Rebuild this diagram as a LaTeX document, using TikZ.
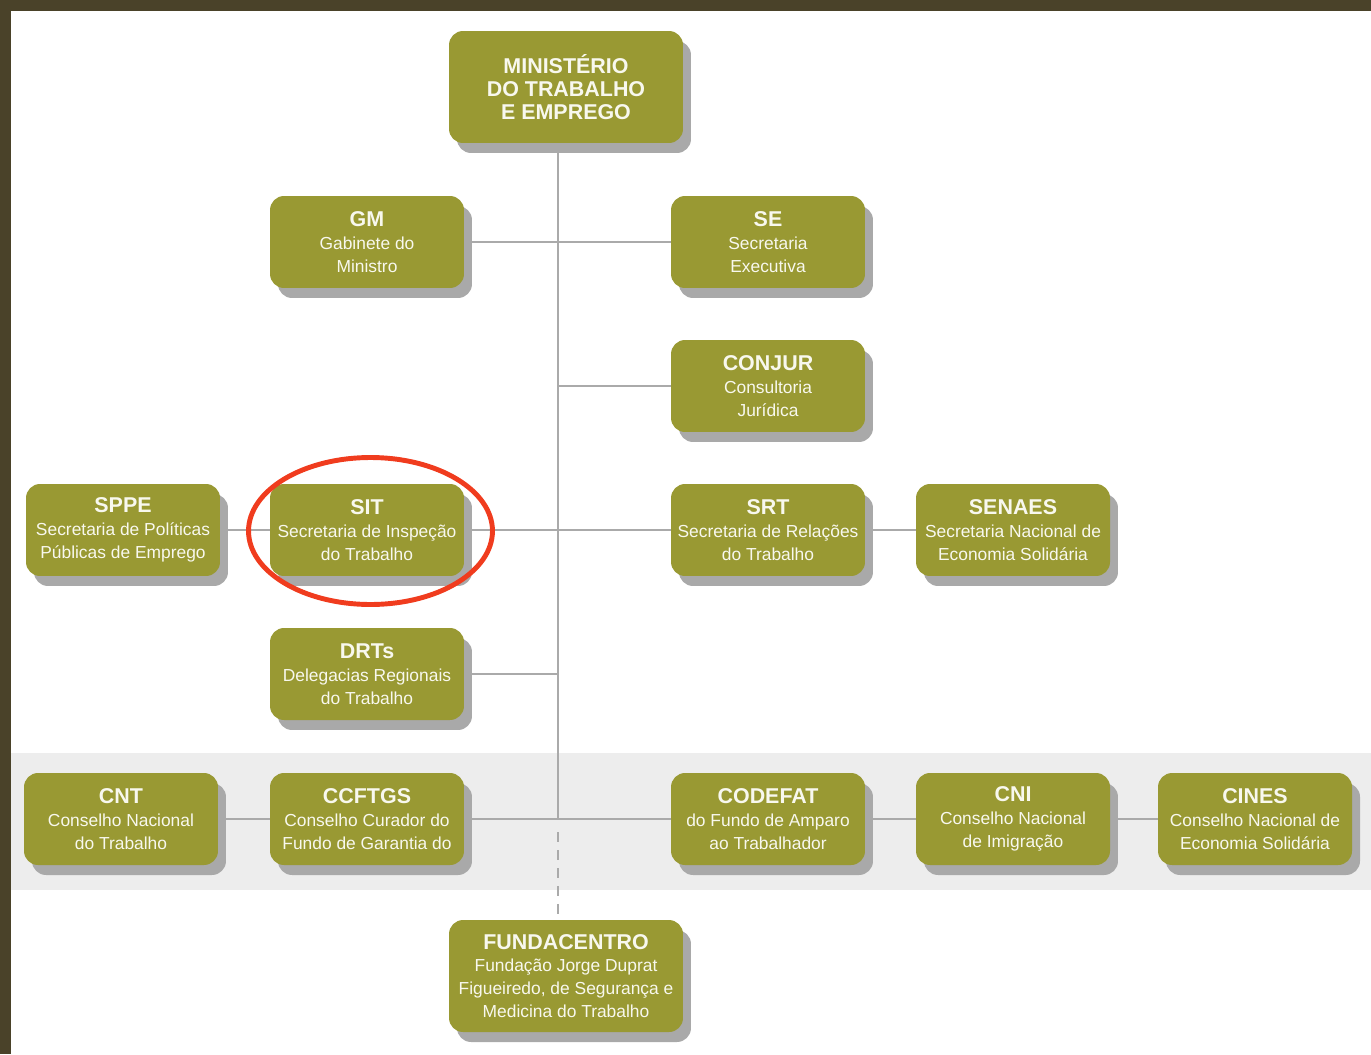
\documentclass[tikz,border=0pt]{standalone}
\usepackage{fontspec}
\setmainfont{Liberation Sans}
\usetikzlibrary{shadows,backgrounds}
\definecolor{frameC}{HTML}{4A4229}
\definecolor{boxC}{HTML}{999933}
\definecolor{shadowC}{HTML}{A9A9A9}
\definecolor{bandC}{HTML}{EDEDED}
\definecolor{lineC}{HTML}{AAAAAA}
\definecolor{txtC}{HTML}{F8F8EE}
\definecolor{redC}{HTML}{F03C1E}
\tikzset{
  orgbox/.style={fill=boxC, rounded corners=0.28cm, minimum width=3.88cm, minimum height=1.84cm,
    inner sep=0pt, align=center, text=txtC, font=\fontsize{9.9}{13}\selectfont,
    drop shadow={shadow xshift=0.16cm, shadow yshift=-0.2cm, fill=shadowC, opacity=1}},
  bigbox/.style={orgbox, minimum width=4.68cm, minimum height=2.24cm},
  conn/.style={draw=lineC, line width=1.1pt},
  dconn/.style={conn, dash pattern=on 0.2cm off 0.16cm}
}
\newcommand{\ttlfont}{\fontsize{12.2}{13}\selectfont\bfseries}
\begin{document}
\begin{tikzpicture}[x=0.02cm, y=-0.02cm]
\useasboundingbox (0,0) rectangle (1371,1054);

\coordinate (trunk) at (558,0);
\coordinate (dstart) at (558,832);

\node[bigbox] (MIN) at (566,87) {\ttlfont MINISTÉRIO\\\ttlfont DO TRABALHO\\\ttlfont E EMPREGO};
\node[orgbox] (GM) at (367,242) {{\ttlfont GM}\\Gabinete do\\Ministro};
\node[orgbox] (SE) at (768,242) {{\ttlfont SE}\\Secretaria\\Executiva};
\node[orgbox] (CONJUR) at (768,386) {{\ttlfont CONJUR}\\Consultoria\\Jurídica};
\node[orgbox] (SPPE) at (123,530) {{\ttlfont SPPE}\\Secretaria de Políticas\\Públicas de Emprego};
\node[orgbox] (SIT) at (367,530) {{\ttlfont SIT}\\Secretaria de Inspeção\\do Trabalho};
\node[orgbox] (SRT) at (768,530) {{\ttlfont SRT}\\Secretaria de Relações\\do Trabalho};
\node[orgbox] (SENAES) at (1013,530) {{\ttlfont SENAES}\\Secretaria Nacional de\\Economia Solidária};
\node[orgbox] (DRT) at (367,674) {{\ttlfont DRTs}\\Delegacias Regionais\\do Trabalho};
\node[orgbox] (CNT) at (121,819) {{\ttlfont CNT}\\Conselho Nacional\\do Trabalho};
\node[orgbox] (CCFTGS) at (367,819) {{\ttlfont CCFTGS}\\Conselho Curador do\\Fundo de Garantia do};
\node[orgbox] (CODEFAT) at (768,819) {{\ttlfont CODEFAT}\\do Fundo de Amparo\\ao Trabalhador};
\node[orgbox] (CNI) at (1013,819) {{\ttlfont CNI}\\Conselho Nacional\\de Imigração};
\node[orgbox] (CINES) at (1255,819) {{\ttlfont CINES}\\Conselho Nacional de\\Economia Solidária};
\node[bigbox] (FUND) at (566,976) {{\ttlfont FUNDACENTRO}\\Fundação Jorge Duprat\\Figueiredo, de Segurança e\\Medicina do Trabalho};

\begin{scope}[on background layer]
\fill[bandC] (11,753) rectangle (1371,890);
\fill[frameC] (0,0) rectangle (1371,11);
\fill[frameC] (0,0) rectangle (11,1054);
\draw[conn] (MIN.south -| trunk) -- (CCFTGS.east -| trunk);
\draw[dconn] (dstart) -- (FUND.north -| trunk);
\draw[conn] (GM.east) -- (SE.west);
\draw[conn] (CONJUR.west) -- (CONJUR.west -| trunk);
\draw[conn] (SPPE.east) -- (SIT.west);
\draw[conn] (SIT.east) -- (SRT.west);
\draw[conn] (SRT.east) -- (SENAES.west);
\draw[conn] (DRT.east) -- (DRT.east -| trunk);
\draw[conn] (CNT.east) -- (CCFTGS.west);
\draw[conn] (CCFTGS.east) -- (CODEFAT.west);
\draw[conn] (CODEFAT.east) -- (CNI.west);
\draw[conn] (CNI.east) -- (CINES.west);
\end{scope}

\draw[redC, line width=2.8pt] (370.5,531) ellipse [x radius=2.44cm, y radius=1.47cm];
\end{tikzpicture}
\end{document}
